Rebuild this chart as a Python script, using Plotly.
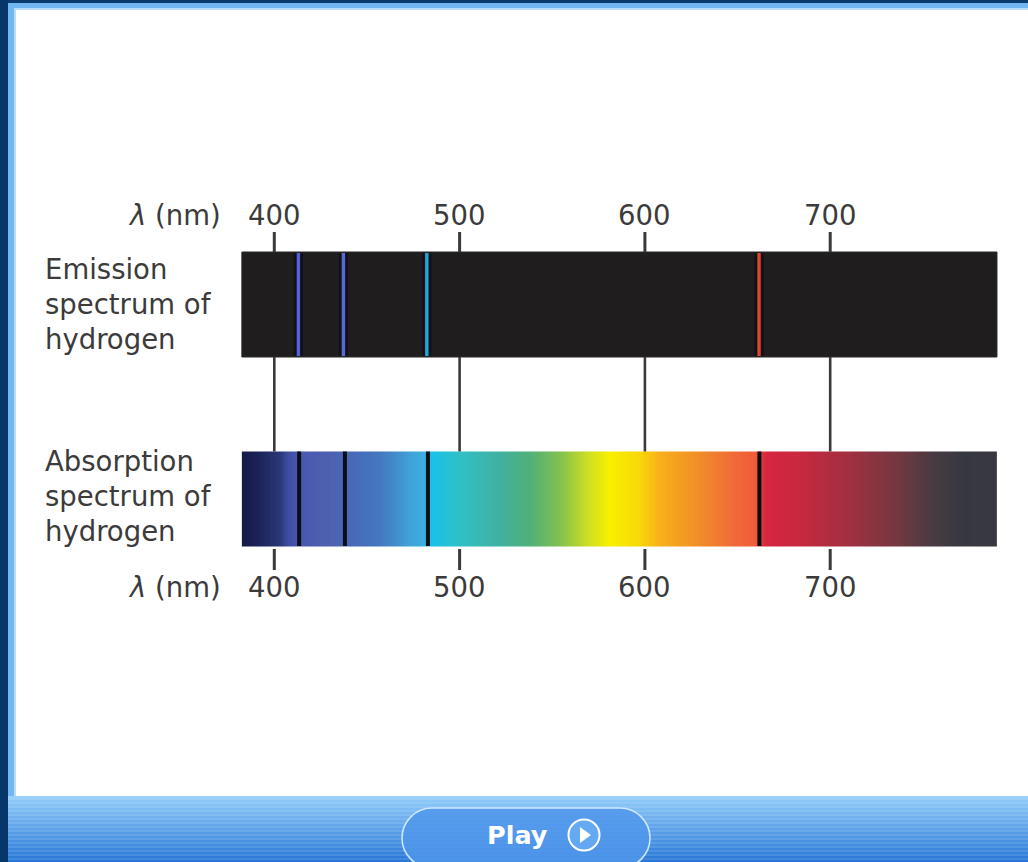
import plotly.graph_objects as go

# ---------------- data ----------------
tick_nm = [400, 500, 600, 700]
tick_labels = ["400", "500", "600", "700"]

spectrum_start_nm = 382.5
spectrum_end_nm = 790.0

# hydrogen lines (Balmer series, as drawn)
emission_nm = [413.0, 437.3, 482.3, 661.6]
emission_colors = ["#5263d8", "#5669d4", "#1faad6", "#e2462a"]
absorption_nm = [413.4, 438.1, 482.9, 661.8]

# continuous-spectrum colour stops
grad_nm = [382.5, 392, 403, 408.5, 414, 430, 441, 457, 473, 481, 485,
           500, 522, 538, 554, 570, 581, 597, 608, 630, 648, 660, 665,
           683, 711, 738, 756, 772, 790]
grad_colors = ["#141a48", "#1c2458", "#2a3878", "#4050a8", "#4858b0", "#5060b0",
               "#4868b8", "#4478c0", "#40a0d8", "#38b0e0", "#18c2e8", "#30c0c8",
               "#40b0a0", "#50b078", "#80c050", "#d0e020", "#f8f000", "#f8d808",
               "#f8b018", "#f08c28", "#f06a38", "#f05c38", "#d82440", "#c82840",
               "#a03040", "#703840", "#483a42", "#363840", "#383840"]

labels_emission = ["Emission", "spectrum of", "hydrogen"]
labels_absorption = ["Absorption", "spectrum of", "hydrogen"]
axis_title = "<i>λ</i> (nm)"

# ---------------- layout geometry (pixels) ----------------
W, H = 1028, 862
PX_PER_NM = 1.853
PX_AT_550 = 552.25
x_lo = 550 - PX_AT_550 / PX_PER_NM
x_hi = 550 + (W - PX_AT_550) / PX_PER_NM

EM_TOP, EM_BOT = 252, 357
AB_TOP, AB_BOT = 451.5, 546
TXT = "#3b3b3b"
FONT = "DejaVu Sans"
FS = 27.5

fig = go.Figure()

# emission bar (dark)
fig.add_trace(go.Scatter(
    x=[spectrum_start_nm, spectrum_end_nm, spectrum_end_nm, spectrum_start_nm, spectrum_start_nm],
    y=[EM_TOP, EM_TOP, EM_BOT, EM_BOT, EM_TOP],
    fill="toself", fillcolor="#1f1d1d", mode="lines",
    line=dict(color="#2a2828", width=1), hoverinfo="skip", showlegend=False))

# emission line halos and lines
for nm, c in zip(emission_nm, emission_colors):
    fig.add_trace(go.Scatter(x=[nm, nm], y=[EM_TOP + 1, EM_BOT - 1], mode="lines",
                             line=dict(color="#0c0c1a", width=9), opacity=0.7,
                             hoverinfo="skip", showlegend=False))
    fig.add_trace(go.Scatter(x=[nm, nm], y=[EM_TOP + 1, EM_BOT - 1], mode="lines",
                             line=dict(color=c, width=3.4),
                             hoverinfo="skip", showlegend=False))

# absorption continuous spectrum
n_cols = 408
step = (spectrum_end_nm - spectrum_start_nm) / n_cols
edges = [spectrum_start_nm + i * step for i in range(n_cols + 1)]
mids = [(edges[i] + edges[i + 1]) / 2 for i in range(n_cols)]
span = spectrum_end_nm - spectrum_start_nm
cscale = [[(g - spectrum_start_nm) / span, c] for g, c in zip(grad_nm, grad_colors)]
fig.add_trace(go.Heatmap(x=edges, y=[AB_TOP, AB_BOT], z=[mids], colorscale=cscale,
                         zmin=spectrum_start_nm, zmax=spectrum_end_nm,
                         showscale=False, hoverinfo="skip"))

# absorption dark lines
for nm in absorption_nm:
    fig.add_trace(go.Scatter(x=[nm, nm], y=[AB_TOP, AB_BOT], mode="lines",
                             line=dict(color="#0d0d18", width=4),
                             hoverinfo="skip", showlegend=False))

# tick marks and connectors
for nm in tick_nm:
    for y0, y1, w in [(232, EM_TOP, 3), (EM_BOT, AB_TOP, 2.6), (549, 570, 3)]:
        fig.add_trace(go.Scatter(x=[nm, nm], y=[y0, y1], mode="lines",
                                 line=dict(color="#3a3a3a", width=w),
                                 hoverinfo="skip", showlegend=False))

annotations = []
for nm, lab in zip(tick_nm, tick_labels):
    for yy in (215, 587):
        annotations.append(dict(x=nm, y=yy, xref="x", yref="y", text=lab, showarrow=False,
                                xanchor="center", yanchor="middle",
                                font=dict(family=FONT, size=FS, color=TXT)))
for yy in (215, 587):
    annotations.append(dict(x=223 / W, y=yy, xref="paper", yref="y", text=axis_title,
                            showarrow=False, xanchor="right", yanchor="middle",
                            font=dict(family=FONT, size=FS, color=TXT)))
for lines, y_first in ((labels_emission, 269), (labels_absorption, 461)):
    for i, t in enumerate(lines):
        annotations.append(dict(x=43 / W, y=y_first + 35 * i, xref="paper", yref="y", text=t,
                                showarrow=False, xanchor="left", yanchor="middle", align="left",
                                font=dict(family=FONT, size=FS, color=TXT)))
annotations.append(dict(x=517 / W, y=835, xref="paper", yref="y", text="<b>Play</b>",
                        showarrow=False, xanchor="center", yanchor="middle",
                        font=dict(family="DejaVu Sans", size=25.5, color="white")))

# ---------------- frame (decoration) ----------------
shapes = []
def rect(x0, y0, x1, y1, color, layer="above"):
    shapes.append(dict(type="rect", xref="paper", yref="y", x0=x0 / W, x1=x1 / W,
                       y0=y0, y1=y1, fillcolor=color, line=dict(width=0), layer=layer))

def mix(c1, c2, t):
    a = [int(c1[i:i + 2], 16) for i in (1, 3, 5)]
    b = [int(c2[i:i + 2], 16) for i in (1, 3, 5)]
    return "#" + "".join(f"{int(round(a[k] + (b[k] - a[k]) * t)):02x}" for k in range(3))

# top border
rect(0, 0, W, 3, "#0b3a6c")
rect(8, 3, W, 8, "#72b6f2")
rect(14, 8, W, 10, "#b8dcfa")
# left border
rect(0, 0, 8, H, "#07366a")
rect(8, 3, 14, 800, "#72b6f2")
rect(14, 10, 16, 797, "#b8dcfa")
# bottom bar
rect(8, 796, W, 800, "#9ccff8")
n_rows = 31
for i in range(n_rows):
    t = i / (n_rows - 1)
    c = mix("#8ac6f6", "#2a78d8", t)
    if i % 2 == 1:
        c = mix(c, "#ffffff", 0.10)
    rect(8, 800 + 2 * i, W, 802 + 2 * i, c)
# play button (pill)
bx0, bx1, by0, by1, r = 402, 650, 808, 868, 30
def P(x, y):
    return f"{x / W:.5f},{y:.3f}"
k = 0.55 * r
path = (f"M {P(bx0 + r, by0)} L {P(bx1 - r, by0)} "
        f"C {P(bx1 - r + k, by0)} {P(bx1, by0 + r - k)} {P(bx1, by0 + r)} "
        f"C {P(bx1, by0 + r + k)} {P(bx1 - r + k, by1)} {P(bx1 - r, by1)} "
        f"L {P(bx0 + r, by1)} "
        f"C {P(bx0 + r - k, by1)} {P(bx0, by0 + r + k)} {P(bx0, by0 + r)} "
        f"C {P(bx0, by0 + r - k)} {P(bx0 + r - k, by0)} {P(bx0 + r, by0)} Z")
shapes.append(dict(type="path", xref="paper", yref="y", path=path,
                   fillcolor="rgba(80,150,235,0.85)", line=dict(color="#cfe6ff", width=1.6)))
# play icon
cx, cy, cr = 584, 835, 15.5
shapes.append(dict(type="circle", xref="paper", yref="y", x0=(cx - cr) / W, x1=(cx + cr) / W,
                   y0=cy - cr, y1=cy + cr, fillcolor="rgba(120,185,250,0.5)",
                   line=dict(color="white", width=2)))
tri = f"M {P(cx - 4, cy - 8)} L {P(cx + 7, cy)} L {P(cx - 4, cy + 8)} Z"
shapes.append(dict(type="path", xref="paper", yref="y", path=tri, fillcolor="white",
                   line=dict(width=0)))

fig.update_layout(
    width=W, height=H, margin=dict(l=0, r=0, t=0, b=0),
    paper_bgcolor="white", plot_bgcolor="white",
    xaxis=dict(range=[x_lo, x_hi], visible=False, fixedrange=True),
    yaxis=dict(range=[H, 0], visible=False, fixedrange=True),
    annotations=annotations, shapes=shapes, showlegend=False,
)
fig.write_html("out.html", config={"displayModeBar": False},
               post_script="document.body.style.margin='0';document.body.style.overflow='hidden';")
